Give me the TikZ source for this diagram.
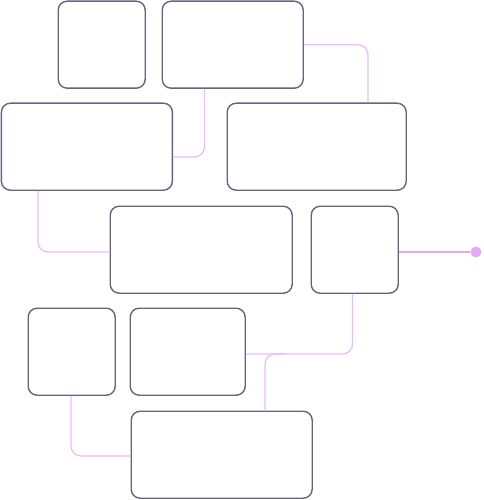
\documentclass[tikz,border=0pt]{standalone}
\begin{document}
\begin{tikzpicture}[x=1pt,y=-1pt,
  box/.style={draw=boxc, line width=1.4pt, rounded corners=9pt, inner sep=0pt, anchor=north west},
  link/.style={draw=linkc, line width=1.3pt, rounded corners=10pt},
  bold link/.style={draw=dotc, line width=2pt},
]
\definecolor{boxc}{HTML}{686281}
\definecolor{linkc}{HTML}{EBBCF9}
\definecolor{dotc}{HTML}{E6A8F6}
\useasboundingbox (0,0) rectangle (483,500);
\node[box, minimum width=87pt, minimum height=87pt] (b1) at (57.5,0.5) {};
\node[box, minimum width=141pt, minimum height=87pt] (b2) at (161.5,0.5) {};
\node[box, minimum width=171pt, minimum height=87pt] (b3) at (0.7,102.5) {};
\node[box, minimum width=179pt, minimum height=87pt] (b4) at (226.5,102.5) {};
\node[box, minimum width=182pt, minimum height=87pt] (b5) at (109.5,205.5) {};
\node[box, minimum width=87pt, minimum height=87pt] (b6) at (310.5,205.5) {};
\node[box, minimum width=87pt, minimum height=87pt] (b7) at (27.5,307.5) {};
\node[box, minimum width=115pt, minimum height=87pt] (b8) at (129.5,307.5) {};
\node[box, minimum width=181pt, minimum height=87pt] (b9) at (130.5,410.5) {};
\node[circle, fill=dotc, inner sep=0pt, minimum size=11pt] (dot) at (476,252) {};
% connectors
\draw[link] (b2.east) -| ([xshift=141.5pt]b4.north west);
\draw[link] ([xshift=43pt]b2.south west) |- ([yshift=-54.5pt]b3.north east);
\draw[link] ([xshift=37.3pt]b3.south west) |- ([yshift=-46.5pt]b5.north west);
\draw[bold link] ([yshift=-46.5pt]b6.north east) -- (dot);
\draw[link] ([xshift=42pt]b6.south west) |- ([yshift=-46.5pt]b8.north east);
\draw[link] ([xshift=40pt,yshift=-46.5pt]b8.north east) -| ([xshift=134.5pt]b9.north west);
\draw[link] ([xshift=43.5pt]b7.south west) |- ([yshift=-45.5pt]b9.north west);
\end{tikzpicture}
\end{document}
